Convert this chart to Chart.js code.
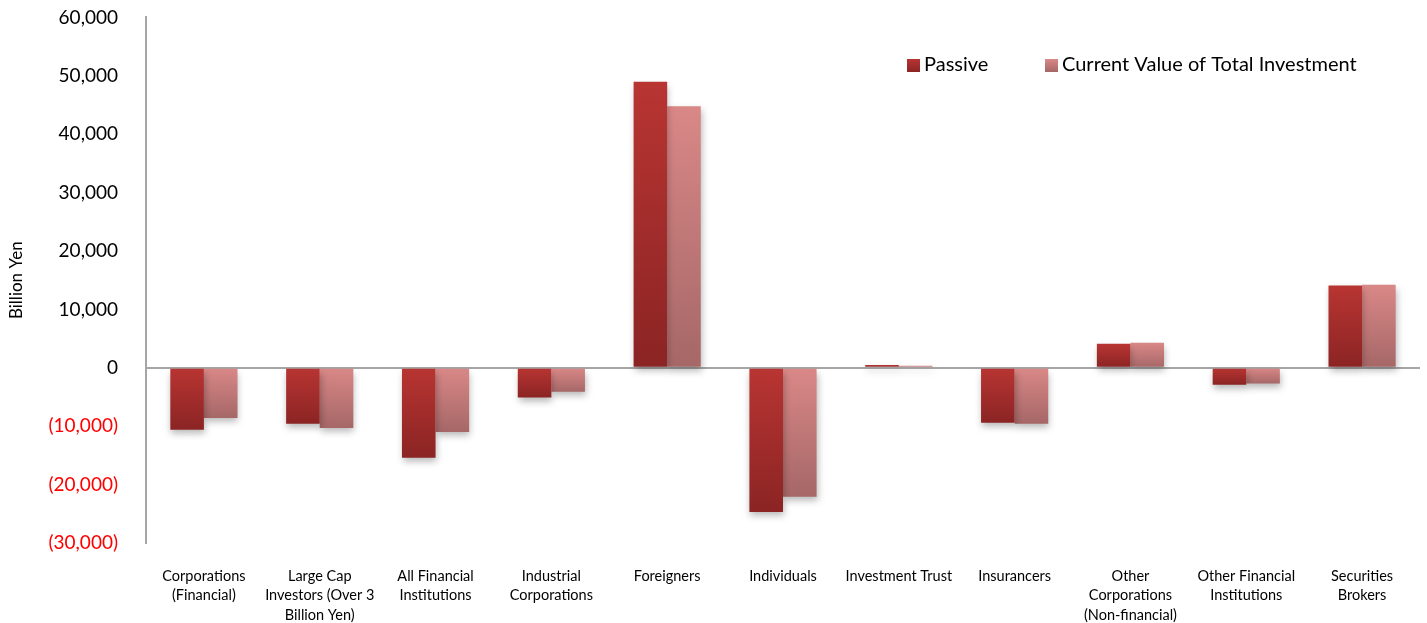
<!DOCTYPE html>
<html>
<head>
<meta charset="utf-8">
<script src="https://cdn.jsdelivr.net/npm/chart.js@4/dist/chart.umd.min.js"></script>
<style>
    body { margin: 0; background: #fff; }
    #box { width: 1427px; height: 623px; }
</style>
</head>
<body>
<div id="box"><canvas id="myChart"></canvas></div>
<script>
// categorias (eixo x)
const categorias = [
    ["Corporations", "(Financial)"],
    ["Large Cap", "Investors (Over 3", "Billion Yen)"],
    ["All Financial", "Institutions"],
    ["Industrial", "Corporations"],
    "Foreigners",
    "Individuals",
    "Investment Trust",
    "Insurancers",
    ["Other", "Corporations", "(Non-financial)"],
    ["Other Financial", "Institutions"],
    ["Securities", "Brokers"]
];

// valores em bilhoes de yen
const passivo = [-10600, -9600, -15400, -5100, 49000, -24700, 500, -9400, 4100, -2900, 14100];
const valorAtual = [-8600, -10300, -11000, -4100, 44800, -22100, 350, -9600, 4300, -2700, 14200];

const ticksY = [-30000, -20000, -10000, 0, 10000, 20000, 30000, 40000, 50000, 60000];

const fonte = "Lato, 'Open Sans', sans-serif";

function gradiente(cores) {
    return function (ctx) {
        const chart = ctx.chart;
        const y = chart.scales.y;
        if (!chart.chartArea || !y || ctx.type !== 'data') return cores[0];
        const v = ctx.raw;
        const topo = y.getPixelForValue(Math.max(v, 0));
        const base = y.getPixelForValue(Math.min(v, 0));
        if (!isFinite(topo) || !isFinite(base) || topo === base) return cores[0];
        const g = chart.ctx.createLinearGradient(0, topo, 0, base);
        g.addColorStop(0, cores[0]);
        g.addColorStop(1, cores[1]);
        return g;
    };
}

// sombra das barras
const sombra = {
    id: 'sombra',
    beforeDatasetsDraw(chart) {
        const c = chart.ctx;
        c.save();
        c.shadowColor = 'rgba(0,0,0,0.28)';
        c.shadowBlur = 7;
        c.shadowOffsetX = 1;
        c.shadowOffsetY = 4;
    },
    afterDatasetsDraw(chart) {
        chart.ctx.restore();
    }
};

// legenda dentro da area do grafico
const legenda = {
    id: 'legenda',
    afterDraw(chart) {
        const c = chart.ctx;
        const itens = [
            { texto: 'Passive', cores: ['#b83532', '#8b2424'], x: 907 },
            { texto: 'Current Value of Total Investment', cores: ['#d98887', '#a66767'], x: 1045 }
        ];
        c.save();
        c.font = "20px " + fonte;
        c.textBaseline = 'middle';
        itens.forEach((item) => {
            const g = c.createLinearGradient(0, 59, 0, 72);
            g.addColorStop(0, item.cores[0]);
            g.addColorStop(1, item.cores[1]);
            c.fillStyle = g;
            c.fillRect(item.x, 59, 13, 13);
            c.fillStyle = '#000';
            c.fillText(item.texto, item.x + 17, 65);
        });
        c.restore();
    }
};

const dados = {
    labels: categorias,
    datasets: [{
        label: 'Passive',
        data: passivo,
        backgroundColor: gradiente(['#b83532', '#8b2424']),
        borderWidth: 0
    }, {
        label: 'Current Value of Total Investment',
        data: valorAtual,
        backgroundColor: gradiente(['#d98887', '#a66767']),
        borderWidth: 0
    }]
};

const config = {
    type: 'bar',
    data: dados,
    plugins: [sombra, legenda],
    options: {
        responsive: true,
        maintainAspectRatio: false,
        animation: false,
        categoryPercentage: 0.58,
        barPercentage: 1,
        layout: { padding: { top: 0, right: 7, left: 0, bottom: 0 } },
        plugins: {
            legend: { display: false },
            tooltip: { enabled: false }
        },
        scales: {
            x: {
                grid: { display: false, drawTicks: false },
                border: { display: false },
                afterFit: (s) => { s.height = 80; },
                ticks: {
                    color: '#000',
                    padding: 23,
                    maxRotation: 0,
                    autoSkip: false,
                    font: { family: fonte, size: 14.5, lineHeight: 1.36 }
                }
            },
            y: {
                min: -30000,
                max: 60000,
                afterBuildTicks: (eixo) => {
                    eixo.ticks = ticksY.map((v) => ({ value: v }));
                },
                afterFit: (s) => { s.width = 146; },
                border: { display: true, color: '#a6a6a6', width: 2 },
                grid: {
                    drawTicks: true,
                    tickLength: 22,
                    tickColor: 'rgba(0,0,0,0)',
                    lineWidth: 2,
                    color: (ctx) => (ctx.tick && ctx.tick.value === 0 ? '#a6a6a6' : 'rgba(0,0,0,0)')
                },
                ticks: {
                    padding: 6,
                    font: { family: fonte, size: 19 },
                    color: (ctx) => (ctx.tick.value < 0 ? '#ff0000' : '#000'),
                    callback: (v) => {
                        const s = Math.abs(v).toLocaleString('en-US');
                        return v < 0 ? '(' + s + ')' : s;
                    }
                },
                title: {
                    display: true,
                    text: 'Billion Yen',
                    color: '#000',
                    padding: { top: 6, bottom: 0 },
                    font: { family: fonte, size: 17 }
                }
            }
        }
    }
};

let myChart = new Chart(document.getElementById("myChart"), config);
</script>
</body>
</html>
